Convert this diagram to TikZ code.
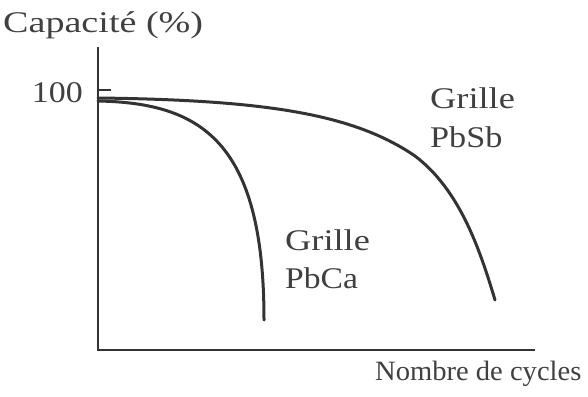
\documentclass[tikz,border=0pt]{standalone}
\usepackage{fontspec}
\setmainfont{Liberation Serif}
\begin{document}
\begin{tikzpicture}[x=1pt,y=-1pt,
  axis/.style={line width=1.8pt,draw=black!80},
  curve/.style={line width=3pt,draw=black!80,line cap=round,line join=round},
  lbl/.style={inner sep=0pt,text=black!75,font=\fontsize{30}{36}\selectfont}]
\useasboundingbox (0,0) rectangle (588,396);
\coordinate (o) at (98,350);
\coordinate (ytop) at (98,47);
\coordinate (xend) at (535,350);
\coordinate (t0) at (98,90);
\coordinate (t1) at (111,90);
\draw[axis] (ytop) -- (o) -- (xend);
\draw[axis,line width=1.2pt] (t0) -- (t1);
% PbSb curve
\coordinate (sb0) at (98,98);
\coordinate (sb1) at (415,156);
\coordinate (sb2) at (495,300);
\draw[curve] (sb0) .. controls (270,100) and (355,115) .. (sb1)
  .. controls (460,190) and (480,250) .. (sb2);
% PbCa curve
\coordinate (ca0) at (98,101);
\coordinate (ca2) at (264,320);
\draw[curve] (ca0) .. controls (200,103) and (264,140) .. (ca2);
\node[lbl,anchor=base west] (cap) at (3,33) {\scalebox{1.27}[1]{Capacité (\%)}};
\node[lbl,anchor=base east] (cent) at (83,102) {\scalebox{1.13}[1]{100}};
\node[lbl,anchor=base west] (g1) at (285,250) {\scalebox{1.21}[1]{Grille}};
\node[lbl,anchor=base west] (p1) at (285,288) {\scalebox{1.12}[1]{PbCa}};
\node[lbl,anchor=base west] (g2) at (430,108) {\scalebox{1.21}[1]{Grille}};
\node[lbl,anchor=base west] (p2) at (430,147) {\scalebox{1.14}[1]{PbSb}};
\node[lbl,anchor=base west,font=\fontsize{28}{34}\selectfont] (nc) at (375,380) {\scalebox{1.02}[1]{Nombre de cycles}};
\end{tikzpicture}
\end{document}
